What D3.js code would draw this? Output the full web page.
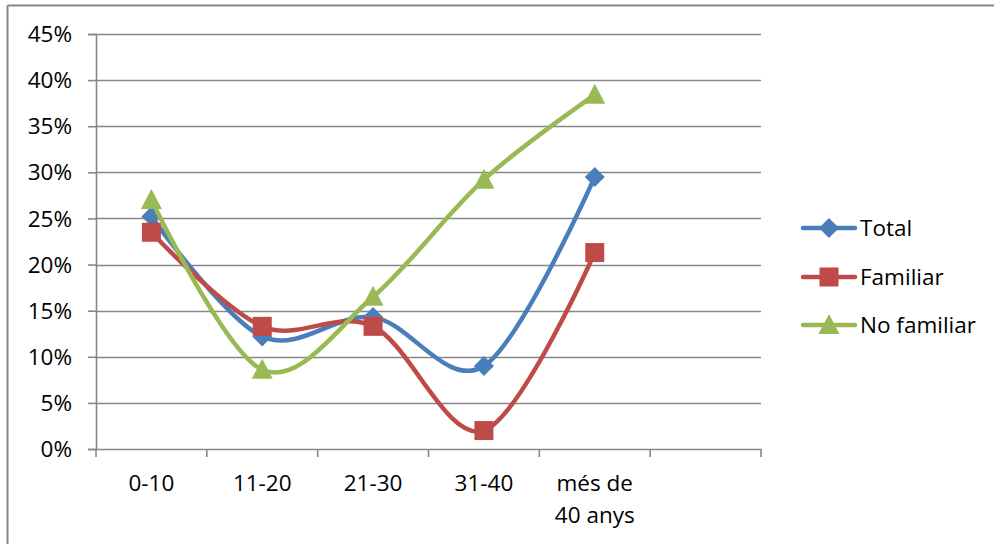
<!DOCTYPE html>
<html>
<head>
<meta charset="utf-8">
<script src="https://cdn.jsdelivr.net/npm/d3@7"></script>
<style>
  html, body { margin: 0; padding: 0; background: #fff; }
  svg { display: block; }
  text { font-family: "Open Sans", "Liberation Sans", sans-serif; fill: #000; }
</style>
</head>
<body>
<svg id="chart" width="994" height="544"></svg>
<script>
const categories = ["0-10", "11-20", "21-30", "31-40", "més de\n40 anys", ""];
const seriesNames = ["Total", "Familiar", "No familiar"];
const totalValues = [0.252, 0.122, 0.143, 0.090, 0.295];
const familiarValues = [0.235, 0.133, 0.133, 0.020, 0.213];
const noFamiliarValues = [0.270, 0.086, 0.165, 0.292, 0.384];
const yTicks = [0, 0.05, 0.10, 0.15, 0.20, 0.25, 0.30, 0.35, 0.40, 0.45];
const colors = ["#4A7EBB", "#BE4B48", "#98B954"];
const symbols = ["diamond", "square", "triangle"];

const svg = d3.select("#chart");
const plotLeft = 96, plotRight = 761, plotTop = 34, plotBottom = 449;
const gray = "#878787";
const fs = 22.5;

const x = d3.scaleBand().domain(d3.range(categories.length)).range([plotLeft, plotRight]).padding(0);
const y = d3.scaleLinear().domain([0, 0.45]).range([plotBottom, plotTop]);

// outer border (top and left only visible)
svg.append("line").attr("x1", 7.5).attr("x2", 994).attr("y1", 5.5).attr("y2", 5.5)
  .attr("stroke", gray).attr("stroke-width", 2);
svg.append("line").attr("x1", 7.5).attr("x2", 7.5).attr("y1", 5.5).attr("y2", 544)
  .attr("stroke", gray).attr("stroke-width", 2);

// gridlines
svg.append("g").selectAll("line").data(yTicks.slice(1)).join("line")
  .attr("x1", plotLeft).attr("x2", plotRight)
  .attr("y1", d => Math.round(y(d)) + 0.5).attr("y2", d => Math.round(y(d)) + 0.5)
  .attr("stroke", gray).attr("stroke-width", 1.6);

// y axis
const yAxis = d3.axisLeft(y).tickValues(yTicks).tickFormat(d3.format(".0%")).tickSize(8).tickPadding(16);
const gy = svg.append("g").attr("transform", `translate(${plotLeft},0)`).call(yAxis);
gy.select(".domain").attr("stroke", gray).attr("stroke-width", 1.6);
gy.selectAll(".tick line").attr("stroke", gray).attr("stroke-width", 1.6);
gy.selectAll(".tick text").attr("font-size", fs).attr("font-family", "Open Sans").attr("fill", "#000").attr("dy", "0.34em");

// x axis
const xAxis = d3.axisBottom(x).tickValues([]).tickSizeOuter(0);
const gx = svg.append("g").attr("transform", `translate(0,${plotBottom})`).call(xAxis);
gx.select(".domain").attr("stroke", gray).attr("stroke-width", 1.6);
const boundaries = d3.range(categories.length + 1).map(i => plotLeft + i * x.bandwidth());
gx.selectAll(".bnd").data(boundaries).join("line").attr("class", "bnd")
  .attr("x1", d => d).attr("x2", d => d).attr("y1", 0).attr("y2", 8)
  .attr("stroke", gray).attr("stroke-width", 1.6);

const labels = svg.append("g");
categories.forEach((c, i) => {
  const lines = c.split("\n");
  const t = labels.append("text").attr("text-anchor", "middle").attr("font-size", fs)
    .attr("x", x(i) + x.bandwidth() / 2).attr("y", 491);
  lines.forEach((l, j) => {
    t.append("tspan").attr("x", x(i) + x.bandwidth() / 2).attr("dy", j === 0 ? 0 : 32).text(l);
  });
});

const allValues = [totalValues, familiarValues, noFamiliarValues];
const line = d3.line().x((d, i) => x(i) + x.bandwidth() / 2).y(d => y(d)).curve(d3.curveCardinal.tension(0));

function drawMarker(g, type, cx, cy, color) {
  if (type === "diamond") {
    const r = 10;
    g.append("path").attr("d", `M${cx},${cy - r}L${cx + r},${cy}L${cx},${cy + r}L${cx - r},${cy}Z`).attr("fill", color);
  } else if (type === "square") {
    const s = 19;
    g.append("rect").attr("x", cx - s / 2).attr("y", cy - s / 2).attr("width", s).attr("height", s).attr("fill", color);
  } else {
    const h = 20, w = 21;
    g.append("path").attr("d", `M${cx},${cy - h / 2 - 1}L${cx + w / 2},${cy + h / 2 - 1}L${cx - w / 2},${cy + h / 2 - 1}Z`).attr("fill", color);
  }
}

allValues.forEach((vals, s) => {
  const g = svg.append("g");
  g.append("path").datum(vals).attr("d", line).attr("fill", "none")
    .attr("stroke", colors[s]).attr("stroke-width", 4.5).attr("stroke-linecap", "round").attr("stroke-linejoin", "round");
  vals.forEach((v, i) => drawMarker(g, symbols[s], x(i) + x.bandwidth() / 2, y(v), colors[s]));
});

// legend
const legendY = [228, 277, 325];
seriesNames.forEach((n, s) => {
  const g = svg.append("g");
  g.append("line").attr("x1", 803).attr("x2", 855).attr("y1", legendY[s]).attr("y2", legendY[s])
    .attr("stroke", colors[s]).attr("stroke-width", 4.5).attr("stroke-linecap", "round");
  drawMarker(g, symbols[s], 829, legendY[s], colors[s]);
  g.append("text").attr("x", 860).attr("y", legendY[s]).attr("dy", "0.36em").attr("font-size", fs).text(n);
});
</script>
</body>
</html>
